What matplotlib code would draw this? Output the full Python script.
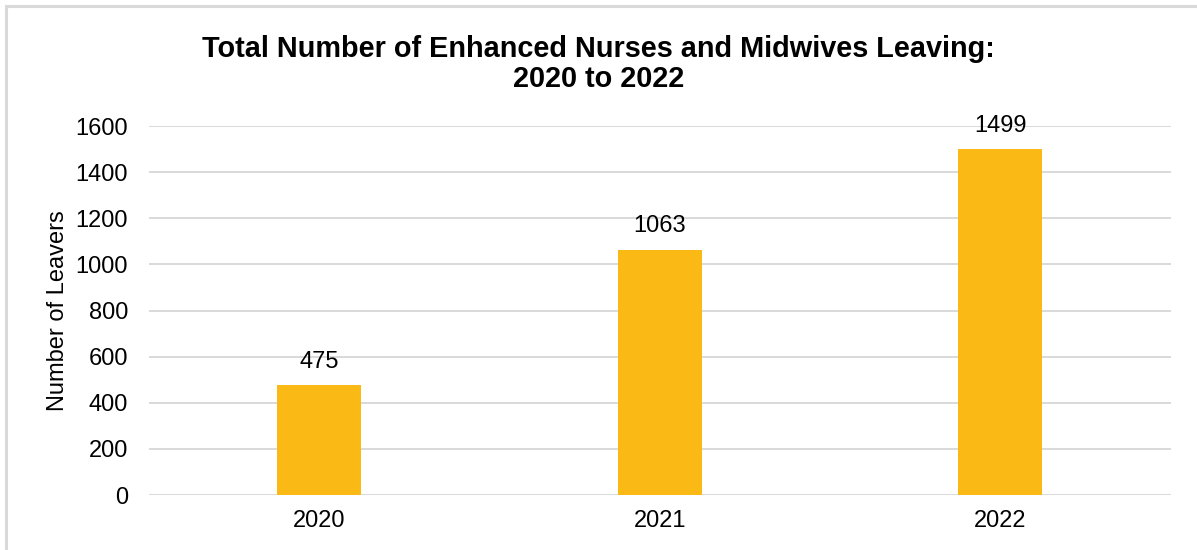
import matplotlib.pyplot as plt
from matplotlib.patches import Rectangle

years = ['2020', '2021', '2022']
leavers = [475, 1063, 1499]
y_ticks = [0, 200, 400, 600, 800, 1000, 1200, 1400, 1600]

BAR_COLOR = '#FBB916'
GRID_COLOR = '#D9D9D9'

plt.rcParams['font.family'] = ['Liberation Sans', 'DejaVu Sans']

fig = plt.figure(figsize=(11.97, 5.5), dpi=100)
ax = fig.add_axes([0.1245, 0.1, 0.8535, 0.6709])

# chart frame, clipped at right and bottom
left, top = 6 / 1197, 1 - 6 / 550
fig.patches.append(Rectangle((left, -0.1), 1.2, top + 0.1,
                             transform=fig.transFigure, fill=False,
                             edgecolor=GRID_COLOR, linewidth=2.2))

x = range(len(years))
bars = ax.bar(x, leavers, width=0.247, color=BAR_COLOR, zorder=3)
for b, v in zip(bars, leavers):
    ax.annotate(str(v), (b.get_x() + b.get_width() / 2, v),
                xytext=(0, 9), textcoords='offset points',
                ha='center', va='bottom', fontsize=17)

ax.set_xlim(-0.5, len(years) - 0.5)
ax.set_ylim(0, 1600)
ax.set_yticks(y_ticks)
ax.set_xticks(list(x))
ax.set_xticklabels(years)
ax.tick_params(axis='both', length=0, labelsize=17, colors='black')
ax.tick_params(axis='y', pad=15)
ax.tick_params(axis='x', pad=11)
ax.yaxis.grid(True, color=GRID_COLOR, linewidth=1.4, zorder=0)
for s in ax.spines.values():
    s.set_visible(False)

ax.set_ylabel('Number of Leavers', fontsize=17, labelpad=5)
fig.text(0.5, 0.884, 'Total Number of Enhanced Nurses and Midwives Leaving:\n2020 to 2022',
         ha='center', va='center', fontsize=20.8, fontweight='bold', linespacing=1.1)

fig.savefig('out.png', dpi=100)
